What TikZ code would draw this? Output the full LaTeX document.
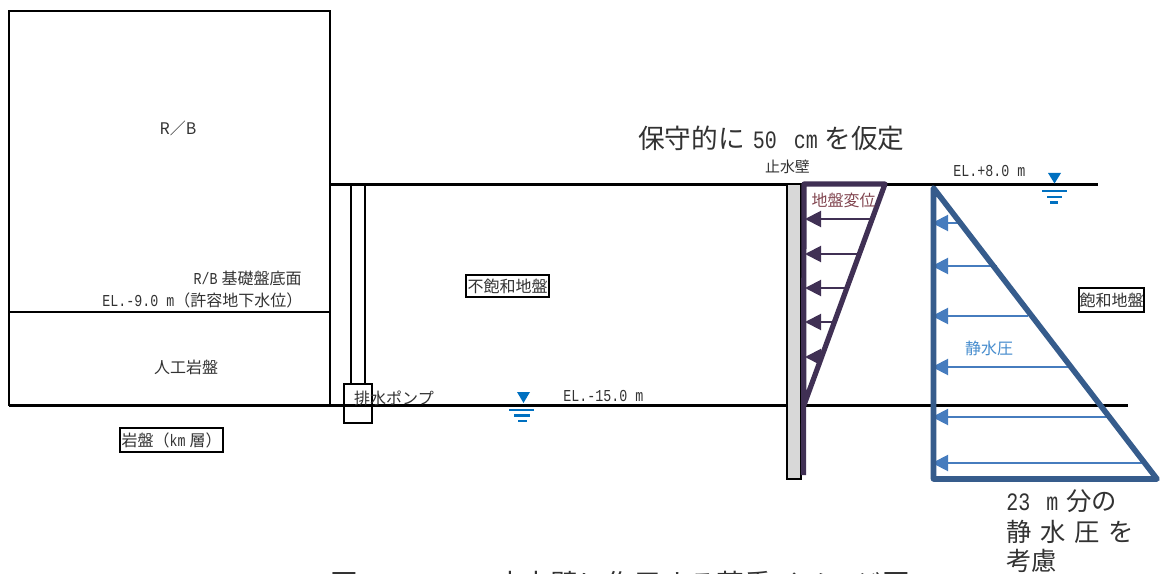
\documentclass[tikz,border=0pt]{standalone}
\usepackage{fontspec}
\usetikzlibrary{arrows.meta}
\setmainfont{Noto Sans CJK JP}
\newfontfamily\lat[FakeStretch=0.8]{Liberation Mono}
\newcommand{\latS}{\lat\fontsize{12.5}{14}\selectfont}
\newcommand{\latL}{\lat\fontsize{18.75}{22}\selectfont}
\definecolor{wallfill}{RGB}{216,216,216}
\definecolor{purp}{RGB}{64,48,84}
\definecolor{steel}{RGB}{54,92,140}
\definecolor{arrowblue}{RGB}{70,124,190}
\definecolor{wat}{RGB}{0,112,192}
\definecolor{txt}{RGB}{50,50,50}
\definecolor{henc}{RGB}{130,70,80}
\definecolor{seic}{RGB}{70,140,205}
\tikzset{
 x=0.75pt,y=-0.75pt,
 outline/.style={draw=black,line width=0.9pt},
 gl/.style={draw=black,line width=1.6pt},
 lbl/.style={inner sep=0pt,text=txt,font=\fontsize{12}{14}\selectfont},
 biglbl/.style={inner sep=0pt,text=txt,font=\fontsize{19}{22}\selectfont},
 framed/.style={draw=black,line width=1.4pt,fill=white,inner sep=0pt,text=txt,font=\fontsize{12}{14}\selectfont},
 dp/.style={draw=purp,line width=1.5pt,-{Triangle[length=12pt,width=12pt]}},
 wp/.style={draw=arrowblue,line width=1.5pt,-{Triangle[length=12pt,width=12pt]}},
 wat1/.style={draw=wat,line width=1.8pt},
 tri/.style={fill=wat},
}
\begin{document}
\begin{tikzpicture}
\useasboundingbox (0,0) rectangle (1163,574);
% building
\draw[outline] (9,11) rectangle (330,405);
\draw[outline] (9,312) -- (330,312);
% pump pipe and box
\draw[outline,fill=white] (351,184) rectangle (365,384);
\draw[outline,fill=white] (344,384) rectangle (372,423);
% ground lines
\draw[gl] (330,184.5) -- (1098,184.5);
\draw[gl,line width=2.2pt] (9,405.5) -- (1128,405.5);
% cut-off wall
\draw[outline,line width=1.2pt,fill=wallfill] (787,184) rectangle (801,479);
% displacement triangle
\draw[dp] (870,219) -- (805,219);
\draw[dp] (857,254) -- (805,254);
\draw[dp] (845,288) -- (805,288);
\draw[dp] (833,322) -- (805,322);
\draw[dp] (822,357) -- (805,357);
\draw[purp,line width=3.900pt,line join=round] (803.500,475) -- (804,184) -- (885,184) -- (804,405);
% water pressure
\draw[wp] (958,223) -- (932,223);
\draw[wp] (997,266) -- (932,266);
\draw[wp] (1028,316) -- (932,316);
\draw[wp] (1068,367) -- (932,367);
\draw[wp] (1108,417) -- (932,417);
\draw[wp] (1145,463) -- (932,463);
\draw[steel,line width=4.200pt,line join=round] (933.500,188) -- (933.500,479) -- (1157,479) -- cycle;
% water marks
\fill[tri] (1048,173) -- (1061,173) -- (1054.500,183.500) -- cycle;
\draw[wat1] (1042,191) -- (1067,191);
\draw[wat1] (1047,197) -- (1062,197);
\draw[wat1] (1050,202.500) -- (1058,202.500);
\fill[tri] (517,392) -- (530,392) -- (523.500,403) -- cycle;
\draw[wat1] (509,410) -- (534,410);
\draw[wat1] (514,415.500) -- (530,415.500);
\draw[wat1] (518,421) -- (527,421);
% labels
\node[lbl] (rb) at (178,128.500) {R／B};
\node[lbl,anchor=east] (base) at (302,278) {{\latS R/B}\hspace{3pt}基礎盤底面};
\node[lbl,anchor=west] (el9) at (102,300) {{\latS EL.-9.0 m}（許容地下水位）};
\node[lbl] (jinko) at (186,367) {人工岩盤};
\node[framed,minimum width=77pt,minimum height=18pt] (gan) at (171.500,440) {岩盤（{\latS km}\hspace{3pt}層）};
\node[lbl] (pump) at (394,398) {排水ポンプ};
\node[framed,minimum width=62pt,minimum height=17pt] (fuho) at (507.500,286) {不飽和地盤};
\node[lbl,anchor=west] (el15) at (563,396) {{\latS EL.-15.0 m}};
\node[biglbl,anchor=west,font=\fontsize{20}{24}\selectfont] (karitei) at (638,138) {保守的に\hspace{6pt}{\latL 50\hspace{12.75pt}cm}\hspace{5pt}を仮定};
\node[lbl,font=\fontsize{11.2}{13}\selectfont] (shisui) at (787.500,167) {止水壁};
\node[lbl,anchor=west] (el8) at (953,171) {{\latS EL.+8.0 m}};
\node[lbl,text=henc] (hen) at (843.500,200) {地盤変位};
\node[framed,minimum width=49pt,minimum height=17.500pt] (howa) at (1111.500,300) {飽和地盤};
\node[lbl,text=seic] (seisui) at (989,348) {静水圧};
\node[biglbl,anchor=west] (m1) at (1006,501) {{\latS\fontsize{18.75}{22}\selectfont 23\hspace{12pt}m}\hspace{6pt}分の};
\node[biglbl,anchor=west] (m2) at (1006,532) {静\hspace{6.500pt}水\hspace{6.500pt}圧\hspace{6.500pt}を};
\node[biglbl,anchor=west] (m3) at (1006,561) {考慮};
\node[biglbl,anchor=west,font=\fontsize{20.800}{24}\selectfont] (cap) at (330,584) {図\makebox[102.750pt][c]{\latL 5.1.1-1}止水壁に作用する荷重イメージ図};
\end{tikzpicture}
\end{document}
